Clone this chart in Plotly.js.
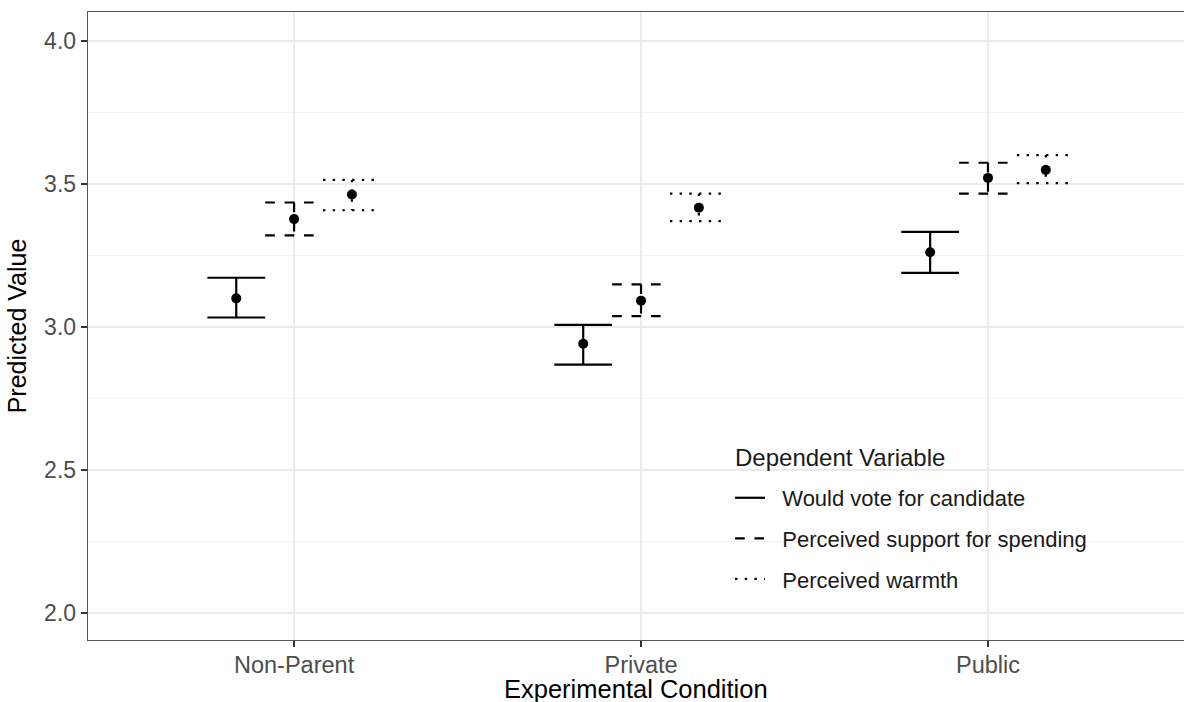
<!DOCTYPE html>
<html>
<head>
<meta charset="utf-8">
<script src="https://cdn.plot.ly/plotly-3.0.1.min.js"></script>
<style>
html,body{margin:0;padding:0;background:#fff;overflow:hidden;}
#chart{width:1184px;height:702px;}
</style>
</head>
<body>
<div id="chart"></div>
<script>
// Data
var conditions = ["Non-Parent", "Private", "Public"];
var seriesNames = ["Would vote for candidate", "Perceived support for spending", "Perceived warmth"];
var legendTitle = "Dependent Variable";
var xTitle = "Experimental Condition";
var yTitle = "Predicted Value";

var voteEst   = [3.100, 2.941, 3.261];
var voteLow   = [3.033, 2.868, 3.189];
var voteHigh  = [3.172, 3.007, 3.332];

var spendEst  = [3.377, 3.092, 3.521];
var spendLow  = [3.320, 3.038, 3.466];
var spendHigh = [3.435, 3.149, 3.574];

var warmEst   = [3.463, 3.417, 3.549];
var warmLow   = [3.408, 3.370, 3.503];
var warmHigh  = [3.514, 3.466, 3.601];

var yTickVals = [2.0, 2.5, 3.0, 3.5, 4.0];
var yTickText = ["2.0", "2.5", "3.0", "3.5", "4.0"];

// Styling
var dashStyles = ["solid", "9.7px,9.7px", "2.4px,7.3px"];
var dodgeWidth = 0.5;
var nGroups = 3;
var groupW = dodgeWidth / nGroups;
var fontFam = '"Liberation Sans", Arial, Helvetica, sans-serif';
var NB = "\u00a0\u00a0";

var groups = [
  {est: voteEst,  lo: voteLow,  hi: voteHigh},
  {est: spendEst, lo: spendLow, hi: spendHigh},
  {est: warmEst,  lo: warmLow,  hi: warmHigh}
];

var traces = [];
groups.forEach(function(g, gi) {
  var off = (gi - (nGroups - 1) / 2) * groupW;
  var hw = groupW / 2;
  var ex = [], ey = [], px = [], py = [];
  conditions.forEach(function(c, ci) {
    var xc = ci + off;
    ex.push(xc - hw, xc + hw, null, xc, xc, null, xc - hw, xc + hw, null);
    ey.push(g.hi[ci], g.hi[ci], null, g.hi[ci], g.lo[ci], null, g.lo[ci], g.lo[ci], null);
    px.push(xc);
    py.push(g.est[ci]);
  });
  traces.push({
    type: "scatter", mode: "lines", x: ex, y: ey,
    name: NB + seriesNames[gi], legendgroup: "g" + gi, showlegend: true,
    line: {color: "#000000", width: 2.2, dash: dashStyles[gi]},
    connectgaps: false, hoverinfo: "skip"
  });
  traces.push({
    type: "scatter", mode: "markers", x: px, y: py,
    name: seriesNames[gi], legendgroup: "g" + gi, showlegend: false,
    marker: {color: "#000000", size: 10}
  });
});

var layout = {
  width: 1184, height: 702,
  margin: {l: 88, r: 0, t: 12, b: 62, pad: 0},
  paper_bgcolor: "#ffffff", plot_bgcolor: "#ffffff",
  font: {family: fontFam, color: "#1a1a1a"},
  showlegend: true,
  legend: {
    x: 0.5858, y: 0.2596, xanchor: "left", yanchor: "top",
    bgcolor: "rgba(0,0,0,0)", borderwidth: 0,
    traceorder: "grouped", tracegroupgap: 9, itemwidth: 30,
    font: {family: fontFam, size: 22, color: "#1a1a1a"}
  },
  annotations: [
    {
      text: legendTitle, xref: "paper", yref: "paper",
      x: 0.5885, y: 0.2914, xanchor: "left", yanchor: "middle",
      showarrow: false, font: {family: fontFam, size: 24, color: "#1a1a1a"}
    },
    {
      text: xTitle, xref: "paper", yref: "paper",
      x: 0.5, y: -0.0525, xanchor: "center", yanchor: "top",
      showarrow: false, font: {family: fontFam, size: 25.5, color: "#000000"}
    }
  ],
  xaxis: {
    range: [-0.594, 2.565],
    tickmode: "array", tickvals: [0, 1, 2], ticktext: conditions,
    showgrid: true, gridcolor: "#EBEBEB", gridwidth: 1.6,
    zeroline: false,
    showline: true, linecolor: "#555555", linewidth: 1.3, mirror: true,
    ticks: "outside", ticklen: 6, tickcolor: "#333333", tickwidth: 1.3,
    ticklabelstandoff: -3,
    tickfont: {family: fontFam, size: 23.5, color: "#4D4D4D"}
  },
  yaxis: {
    range: [1.9056, 4.101],
    tickmode: "array", tickvals: yTickVals, ticktext: yTickText,
    showgrid: true, gridcolor: "#EBEBEB", gridwidth: 1.6,
    minor: {tickmode: "linear", dtick: 0.25, showgrid: true, gridcolor: "#F3F3F3", gridwidth: 1, ticks: ""},
    zeroline: false,
    showline: true, linecolor: "#555555", linewidth: 1.3, mirror: false,
    ticks: "outside", ticklen: 6, tickcolor: "#333333", tickwidth: 1.3,
    tickfont: {family: fontFam, size: 23, color: "#4D4D4D"},
    title: {text: yTitle, font: {family: fontFam, size: 25, color: "#000000"}, standoff: 10}
  }
};

Plotly.newPlot("chart", traces, layout, {displayModeBar: false, staticPlot: true});
</script>
</body>
</html>
